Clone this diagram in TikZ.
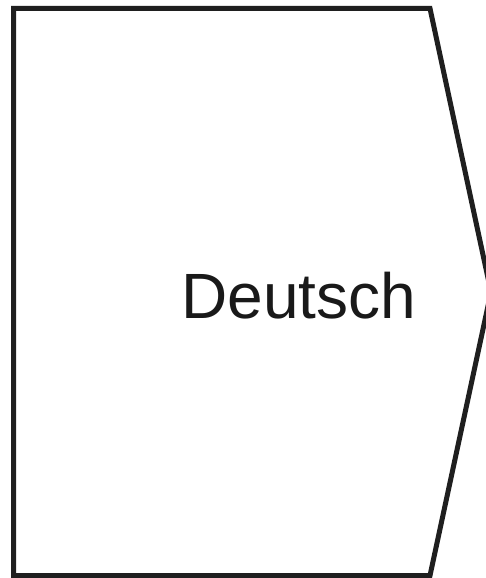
\documentclass[tikz,border=0pt]{standalone}
\usepackage{fontspec}
\setmainfont{Liberation Sans}
\begin{document}
\begin{tikzpicture}[x=1pt,y=1pt,
  shapeline/.style={draw=black!88,line width=5pt,line join=miter},
  label/.style={font=\fontsize{64}{70}\selectfont,text=black!90,inner sep=0pt,anchor=base}]
\useasboundingbox (0,0) rectangle (486,-578);
\begin{scope}
\clip (0,0) rectangle (486,-578);
\draw[shapeline] (13.5,-8.5) -- (430,-8.5) -- (491,-292) -- (430,-575.5) -- (13.5,-575.5) -- cycle;
\end{scope}
\node[label] (t) at (299,-318) {Deutsch};
\end{tikzpicture}
\end{document}
